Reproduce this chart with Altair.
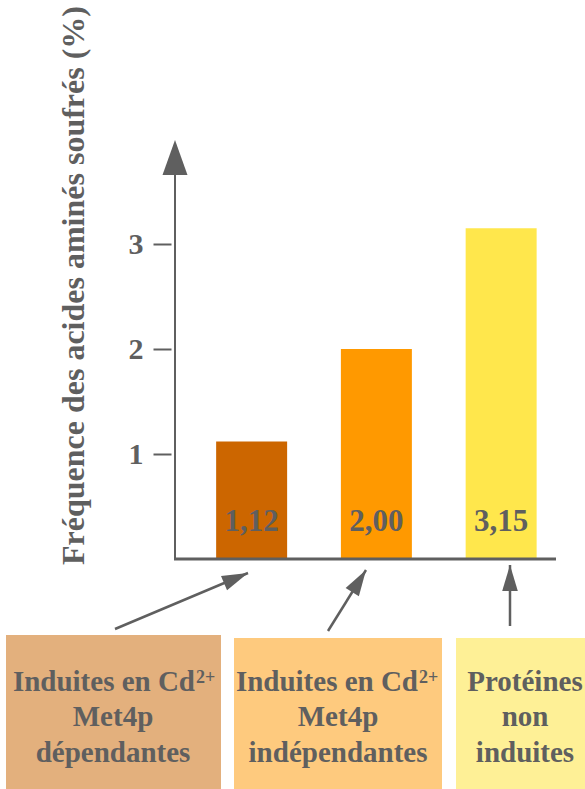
import altair as alt
import pandas as pd

# ---- data -------------------------------------------------------------
categories = ["Met4p dépendantes", "Met4p indépendantes", "Protéines non induites"]
values = [1.12, 2.00, 3.15]
value_labels = ["1,12", "2,00", "3,15"]
y_ticks = [1, 2, 3]
y_title = "Fréquence des acides aminés soufrés (%)"

box_lines = [
    ["Induites en Cd", "Met4p", "dépendantes"],
    ["Induites en Cd", "Met4p", "indépendantes"],
    ["Protéines", "non", "induites"],
]
box_superscripts = ["2+", "2+", ""]

# ---- styles -----------------------------------------------------------
bar_colors = ["#CC6600", "#FF9900", "#FFE74C"]
box_colors = ["#E3B07D", "#FECA7E", "#FEF096"]
GRAY = "#5F5F5F"
FONT = "Liberation Serif"

W, H = 381, 420  # plot area in pixels

df = pd.DataFrame({"cat": categories, "val": values, "lab": value_labels})
one = pd.DataFrame({"k": [0]})

x_enc = alt.X(
    "cat:N",
    sort=categories,
    axis=None,
    scale=alt.Scale(paddingInner=0.431, paddingOuter=0.2425, align=0.68),
)
y_enc = alt.Y(
    "val:Q",
    scale=alt.Scale(domain=[0, 4], nice=False),
    axis=alt.Axis(
        values=y_ticks,
        domain=False,
        grid=False,
        offset=4,
        tickSize=18,
        tickWidth=2,
        tickColor=GRAY,
        labelFont=FONT,
        labelFontSize=30,
        labelFontWeight="bold",
        labelColor=GRAY,
        labelPadding=10,
        title=y_title,
        titleFont=FONT,
        titleFontSize=32,
        titleFontWeight="bold",
        titleColor=GRAY,
        titleAngle=270,
        titleAlign="center",
        titleBaseline="middle",
        titleX=-98,
        titleY=146,
    ),
)

bars = alt.Chart(df).mark_bar().encode(
    x=x_enc,
    y=y_enc,
    color=alt.Color("cat:N", scale=alt.Scale(domain=categories, range=bar_colors), legend=None),
)

bar_text = alt.Chart(df).mark_text(
    font=FONT, fontSize=31, fontWeight="bold", color=GRAY, baseline="alphabetic"
).encode(x=alt.X("cat:N", sort=categories), y=alt.value(392), text="lab:N")

# axis lines drawn by hand: vertical with arrowhead, horizontal baseline
y_line = alt.Chart(one).mark_rule(color=GRAY, strokeWidth=2).encode(
    x=alt.value(0), y=alt.value(H), y2=alt.value(30)
)
y_head = alt.Chart(one).mark_point(
    shape="M0,0L0.714,2L-0.714,2Z", filled=True, size=35 ** 2, color=GRAY, opacity=1
).encode(x=alt.value(0), y=alt.value(1))
x_line = alt.Chart(one).mark_rule(color=GRAY, strokeWidth=3).encode(
    x=alt.value(-1), x2=alt.value(W), y=alt.value(H)
)

layers = [bars, bar_text, y_line, y_head, x_line]

# category boxes underneath the chart
box_x = [(-169, 46), (59, 267), (281, 410)]
box_top = [496, 499, 499]
text_cx = [-62, 163, 350]
sup_x = [20, 243, None]
baselines = [552, 587, 623]

for i in range(3):
    layers.append(
        alt.Chart(one).mark_rect(color=box_colors[i]).encode(
            x=alt.value(box_x[i][0]), x2=alt.value(box_x[i][1]),
            y=alt.value(box_top[i]), y2=alt.value(H + 230),
        )
    )
    for j, line in enumerate(box_lines[i]):
        if j == 0 and box_superscripts[i]:
            layers.append(
                alt.Chart(one).mark_text(
                    text=line, font=FONT, fontSize=29, fontWeight="bold", color=GRAY,
                    align="right", baseline="alphabetic",
                ).encode(x=alt.value(sup_x[i]), y=alt.value(baselines[0]))
            )
            layers.append(
                alt.Chart(one).mark_text(
                    text=box_superscripts[i], font=FONT, fontSize=18, fontWeight="bold",
                    color=GRAY, align="left", baseline="alphabetic",
                ).encode(x=alt.value(sup_x[i] + 1), y=alt.value(baselines[0] - 8))
            )
        else:
            layers.append(
                alt.Chart(one).mark_text(
                    text=line, font=FONT, fontSize=29, fontWeight="bold", color=GRAY,
                    align="center", baseline="alphabetic",
                ).encode(x=alt.value(text_cx[i]), y=alt.value(baselines[j]))
            )

# pointer arrows from the boxes to the bars: (start, tip, rotation)
arrows = [
    ((-60, 490), (73, 434), 67.2),
    ((153, 492), (191, 431), 31.9),
    ((335, 487), (335, 426), 0.0),
]
for (x0, y0), (x1, y1), ang in arrows:
    layers.append(
        alt.Chart(one).mark_rule(color=GRAY, strokeWidth=2.5).encode(
            x=alt.value(x0), y=alt.value(y0), x2=alt.value(x1), y2=alt.value(y1)
        )
    )
    layers.append(
        alt.Chart(one).mark_point(
            shape="M0,0L0.6,2L-0.6,2Z", filled=True, size=26 ** 2, color=GRAY,
            opacity=1, angle=ang,
        ).encode(x=alt.value(x1), y=alt.value(y1))
    )

chart = (
    alt.layer(*layers)
    .properties(
        width=W,
        height=H,
        padding={"left": 175, "top": 139, "right": 29, "bottom": 230},
        autosize=alt.AutoSizeParams(type="none"),
    )
    .configure_view(stroke=None)
)

chart.save("out.html", embed_options={"renderer": "svg", "actions": False})
